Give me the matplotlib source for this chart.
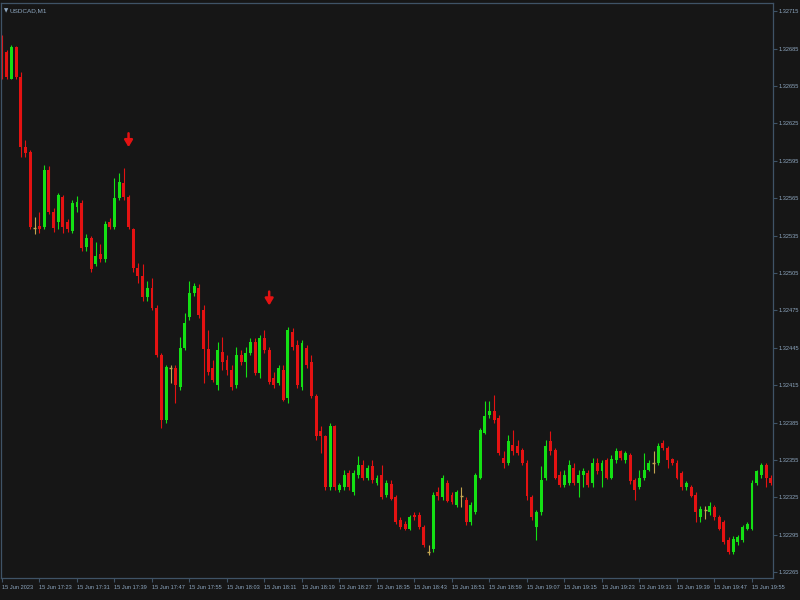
import matplotlib
matplotlib.use("Agg")
import matplotlib.pyplot as plt
import numpy as np

# USDCAD M1 candles, 15 Jun 2023 17:15 .. 19:59
opens = [
    1.32694, 1.32682, 1.32661, 1.32686, 1.32662, 1.32606, 1.32602, 1.32541, 1.32543, 1.32542,
    1.32588, 1.32554, 1.32546, 1.32566, 1.32546, 1.32539, 1.32558, 1.32561, 1.32526, 1.32533,
    1.32512, 1.32520, 1.32516, 1.32546, 1.32542, 1.32565, 1.32577, 1.32566, 1.32540, 1.32509,
    1.32503, 1.32486, 1.32493, 1.32477, 1.32439, 1.32387, 1.32429, 1.32429, 1.32414, 1.32445,
    1.32470, 1.32489, 1.32493, 1.32475, 1.32444, 1.32429, 1.32415, 1.32442, 1.32435, 1.32427,
    1.32415, 1.32439, 1.32434, 1.32441, 1.32450, 1.32425, 1.32453, 1.32443, 1.32421, 1.32417,
    1.32427, 1.32405, 1.32458, 1.32447, 1.32414, 1.32445, 1.32434, 1.32406, 1.32378, 1.32374,
    1.32333, 1.32382, 1.32331, 1.32333, 1.32345, 1.32329, 1.32343, 1.32351, 1.32341, 1.32350,
    1.32337, 1.32343, 1.32327, 1.32336, 1.32325, 1.32307, 1.32304, 1.32300, 1.32311, 1.32311,
    1.32301, 1.32281, 1.32284, 1.32329, 1.32325, 1.32337, 1.32327, 1.32319, 1.32326, 1.32323,
    1.32305, 1.32313, 1.32341, 1.32377, 1.32391, 1.32394, 1.32389, 1.32357, 1.32353, 1.32367,
    1.32366, 1.32363, 1.32353, 1.32325, 1.32301, 1.32313, 1.32341, 1.32370, 1.32363, 1.32343,
    1.32335, 1.32337, 1.32349, 1.32337, 1.32343, 1.32345, 1.32337, 1.32353, 1.32346, 1.32355,
    1.32341, 1.32355, 1.32362, 1.32355, 1.32359, 1.32339, 1.32333, 1.32341, 1.32347, 1.32353,
    1.32353, 1.32369, 1.32365, 1.32356, 1.32353, 1.32345, 1.32333, 1.32333, 1.32327, 1.32309,
    1.32315, 1.32313, 1.32317, 1.32309, 1.32305, 1.32291, 1.32281, 1.32289, 1.32291, 1.32300,
    1.32300, 1.32337, 1.32343, 1.32351, 1.32341,
]
highs = [
    1.32696, 1.32684, 1.32688, 1.32687, 1.32666, 1.32612, 1.32604, 1.32550, 1.32554, 1.32592,
    1.32591, 1.32557, 1.32569, 1.32568, 1.32548, 1.32564, 1.32567, 1.32564, 1.32536, 1.32535,
    1.32530, 1.32528, 1.32547, 1.32549, 1.32581, 1.32585, 1.32589, 1.32568, 1.32541, 1.32513,
    1.32512, 1.32499, 1.32501, 1.32479, 1.32441, 1.32431, 1.32431, 1.32431, 1.32454, 1.32473,
    1.32499, 1.32497, 1.32496, 1.32479, 1.32459, 1.32435, 1.32450, 1.32454, 1.32439, 1.32431,
    1.32446, 1.32443, 1.32446, 1.32453, 1.32453, 1.32455, 1.32459, 1.32446, 1.32426, 1.32431,
    1.32431, 1.32462, 1.32461, 1.32451, 1.32451, 1.32447, 1.32439, 1.32408, 1.32382, 1.32375,
    1.32385, 1.32383, 1.32337, 1.32347, 1.32347, 1.32347, 1.32358, 1.32355, 1.32351, 1.32355,
    1.32343, 1.32351, 1.32339, 1.32339, 1.32327, 1.32309, 1.32306, 1.32311, 1.32313, 1.32313,
    1.32303, 1.32287, 1.32329, 1.32333, 1.32343, 1.32339, 1.32329, 1.32331, 1.32333, 1.32325,
    1.32321, 1.32345, 1.32381, 1.32402, 1.32402, 1.32407, 1.32391, 1.32362, 1.32375, 1.32379,
    1.32371, 1.32365, 1.32355, 1.32327, 1.32315, 1.32350, 1.32371, 1.32378, 1.32365, 1.32346,
    1.32347, 1.32355, 1.32353, 1.32347, 1.32349, 1.32347, 1.32357, 1.32357, 1.32355, 1.32357,
    1.32359, 1.32365, 1.32363, 1.32362, 1.32361, 1.32341, 1.32347, 1.32361, 1.32355, 1.32362,
    1.32369, 1.32371, 1.32366, 1.32357, 1.32355, 1.32346, 1.32338, 1.32335, 1.32329, 1.32318,
    1.32318, 1.32321, 1.32319, 1.32311, 1.32307, 1.32293, 1.32294, 1.32295, 1.32303, 1.32305,
    1.32339, 1.32347, 1.32353, 1.32353, 1.32343,
]
lows = [
    1.32661, 1.32661, 1.32661, 1.32661, 1.32598, 1.32598, 1.32540, 1.32536, 1.32537, 1.32540,
    1.32552, 1.32538, 1.32540, 1.32537, 1.32538, 1.32537, 1.32554, 1.32523, 1.32523, 1.32506,
    1.32511, 1.32514, 1.32514, 1.32540, 1.32540, 1.32564, 1.32564, 1.32540, 1.32506, 1.32497,
    1.32483, 1.32483, 1.32475, 1.32438, 1.32381, 1.32385, 1.32417, 1.32401, 1.32411, 1.32443,
    1.32467, 1.32487, 1.32469, 1.32417, 1.32423, 1.32418, 1.32411, 1.32427, 1.32423, 1.32411,
    1.32413, 1.32431, 1.32422, 1.32439, 1.32423, 1.32421, 1.32441, 1.32416, 1.32413, 1.32415,
    1.32402, 1.32401, 1.32443, 1.32413, 1.32411, 1.32429, 1.32405, 1.32371, 1.32361, 1.32331,
    1.32331, 1.32331, 1.32329, 1.32331, 1.32331, 1.32327, 1.32341, 1.32339, 1.32339, 1.32337,
    1.32335, 1.32324, 1.32325, 1.32323, 1.32304, 1.32300, 1.32299, 1.32299, 1.32307, 1.32300,
    1.32285, 1.32279, 1.32281, 1.32323, 1.32323, 1.32321, 1.32320, 1.32317, 1.32317, 1.32303,
    1.32303, 1.32312, 1.32340, 1.32376, 1.32389, 1.32385, 1.32359, 1.32349, 1.32351, 1.32359,
    1.32359, 1.32351, 1.32323, 1.32307, 1.32291, 1.32311, 1.32339, 1.32359, 1.32340, 1.32333,
    1.32333, 1.32335, 1.32335, 1.32325, 1.32333, 1.32333, 1.32333, 1.32344, 1.32333, 1.32340,
    1.32340, 1.32353, 1.32355, 1.32353, 1.32336, 1.32323, 1.32332, 1.32339, 1.32346, 1.32345,
    1.32351, 1.32363, 1.32349, 1.32351, 1.32340, 1.32331, 1.32331, 1.32325, 1.32305, 1.32305,
    1.32308, 1.32311, 1.32307, 1.32299, 1.32288, 1.32280, 1.32280, 1.32287, 1.32289, 1.32299,
    1.32299, 1.32335, 1.32341, 1.32333, 1.32335,
]
closes = [
    1.32662, 1.32662, 1.32686, 1.32662, 1.32606, 1.32601, 1.32542, 1.32541, 1.32540, 1.32588,
    1.32554, 1.32541, 1.32568, 1.32542, 1.32540, 1.32561, 1.32562, 1.32525, 1.32533, 1.32508,
    1.32519, 1.32516, 1.32544, 1.32542, 1.32565, 1.32578, 1.32566, 1.32542, 1.32509, 1.32503,
    1.32486, 1.32493, 1.32477, 1.32439, 1.32387, 1.32430, 1.32429, 1.32415, 1.32445, 1.32465,
    1.32489, 1.32495, 1.32471, 1.32444, 1.32426, 1.32419, 1.32443, 1.32434, 1.32427, 1.32414,
    1.32439, 1.32434, 1.32441, 1.32450, 1.32425, 1.32453, 1.32443, 1.32418, 1.32415, 1.32429,
    1.32403, 1.32459, 1.32446, 1.32415, 1.32449, 1.32431, 1.32406, 1.32374, 1.32374, 1.32333,
    1.32382, 1.32333, 1.32335, 1.32343, 1.32333, 1.32345, 1.32351, 1.32341, 1.32349, 1.32339,
    1.32341, 1.32325, 1.32337, 1.32324, 1.32305, 1.32301, 1.32300, 1.32309, 1.32309, 1.32301,
    1.32287, 1.32281, 1.32327, 1.32326, 1.32341, 1.32322, 1.32321, 1.32329, 1.32326, 1.32305,
    1.32319, 1.32343, 1.32379, 1.32390, 1.32394, 1.32387, 1.32361, 1.32353, 1.32370, 1.32362,
    1.32361, 1.32353, 1.32326, 1.32309, 1.32313, 1.32339, 1.32366, 1.32362, 1.32341, 1.32335,
    1.32343, 1.32351, 1.32337, 1.32343, 1.32346, 1.32335, 1.32353, 1.32346, 1.32353, 1.32341,
    1.32356, 1.32362, 1.32357, 1.32361, 1.32338, 1.32331, 1.32341, 1.32347, 1.32353, 1.32353,
    1.32366, 1.32365, 1.32355, 1.32353, 1.32341, 1.32333, 1.32337, 1.32326, 1.32313, 1.32316,
    1.32315, 1.32318, 1.32309, 1.32300, 1.32289, 1.32281, 1.32292, 1.32293, 1.32301, 1.32304,
    1.32337, 1.32346, 1.32351, 1.32341, 1.32337,
]

# sell arrows (bar index, arrow tip price)
arrow_bars = [27, 57]
arrow_tips = [1.32606, 1.32479]

time_labels = ["15 Jun 2023", "15 Jun 17:23", "15 Jun 17:31", "15 Jun 17:39",
               "15 Jun 17:47", "15 Jun 17:55", "15 Jun 18:03", "15 Jun 18:11",
               "15 Jun 18:19", "15 Jun 18:27", "15 Jun 18:35", "15 Jun 18:43",
               "15 Jun 18:51", "15 Jun 18:59", "15 Jun 19:07", "15 Jun 19:15",
               "15 Jun 19:23", "15 Jun 19:31", "15 Jun 19:39", "15 Jun 19:47",
               "15 Jun 19:55"]
price_ticks = [1.32715, 1.32685, 1.32655, 1.32625, 1.32595, 1.32565, 1.32535, 1.32505,
               1.32475, 1.32445, 1.32415, 1.32385, 1.32355, 1.32325, 1.32295, 1.32265]

BG = "#161616"
FRAME = "#3f5366"
TXT = "#8ea7c0"
UP = "#14e014"
DOWN = "#e41212"
DOJI = "#c4a650"
FONT = ["Liberation Sans", "DejaVu Sans"]

o = np.array(opens)
h = np.array(highs)
l = np.array(lows)
c = np.array(closes)
x = np.arange(len(o))
up = c > o
dn = c < o
dj = c == o

fig = plt.figure(figsize=(8, 6), dpi=100, facecolor=BG)
ax = fig.add_axes([1 / 800, 22 / 600, 772 / 800, 575 / 600])
ax.set_facecolor(BG)

# wicks
ax.vlines(x[up], l[up], h[up], color=UP, lw=0.8)
ax.vlines(x[dn], l[dn], h[dn], color=DOWN, lw=0.8)
ax.vlines(x[dj], l[dj], h[dj], color=DOJI, lw=0.8)

# bodies
w = 0.62
ax.bar(x[up], (c - o)[up], bottom=o[up], width=w, color=UP, linewidth=0)
ax.bar(x[dn], (o - c)[dn], bottom=c[dn], width=w, color=DOWN, linewidth=0)
ax.hlines(o[dj], x[dj] - w / 2, x[dj] + w / 2, color=DOJI, lw=1)

for b, p in zip(arrow_bars, arrow_tips):
    ax.annotate("", xy=(b, p), xytext=(0, 10), textcoords="offset points",
                arrowprops=dict(arrowstyle="-|>,head_width=0.3,head_length=0.5",
                                color=DOWN, lw=1.8, mutation_scale=8,
                                shrinkA=0, shrinkB=0))

ax.set_xlim(-0.21, 164.48)
ax.set_ylim(1.322604, 1.3272165)

ax.set_xticks(np.arange(0, len(time_labels) * 8, 8))
ax.set_xticklabels(time_labels, family=FONT, fontsize=4.1, color=TXT, ha="left")
ax.set_yticks(price_ticks)
ax.set_yticklabels([f"{v:.5f}" for v in price_ticks], family=FONT, fontsize=4.1,
                   color=TXT)
ax.yaxis.tick_right()
ax.tick_params(axis="both", colors=FRAME, length=3, width=0.8, labelcolor=TXT)
ax.tick_params(axis="x", pad=2)
ax.tick_params(axis="y", pad=1)

for s in ax.spines.values():
    s.set_color(FRAME)
    s.set_linewidth(0.9)

fig.text(4 / 800, 1 - 11 / 600, "\u25bc", color=TXT, fontsize=4, va="center",
         family="DejaVu Sans")
fig.text(10 / 800, 1 - 11 / 600, "USDCAD,M1", color=TXT, fontsize=4.6, va="center",
         family=FONT)

fig.savefig("out.png", dpi=100, facecolor=BG)
